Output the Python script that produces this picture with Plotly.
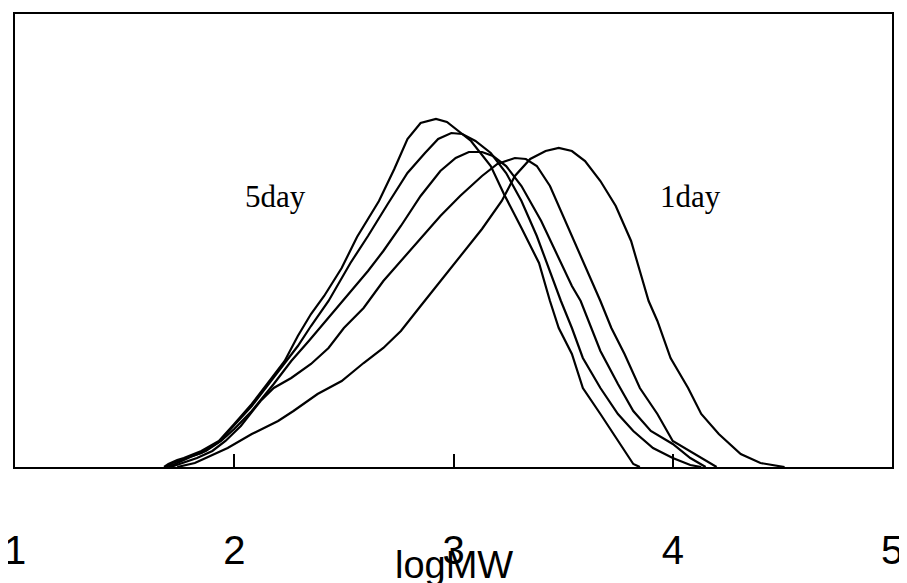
import plotly.graph_objects as go

# logMW values and relative intensities
a_x = [1.68, 1.70, 1.74, 1.77, 1.85, 1.93, 2.00, 2.08, 2.15, 2.23, 2.29, 2.35, 2.41, 2.49, 2.56, 2.66, 2.73, 2.79, 2.85, 2.92, 2.97, 3.01, 3.08, 3.17, 3.23, 3.31, 3.39, 3.44, 3.48, 3.54, 3.59, 3.67, 3.75, 3.80, 3.82, 3.85]
a_y = [0, 3, 7, 9, 16, 26, 43, 63, 83, 106, 131, 153, 171, 199, 230, 266, 298, 328, 344, 348, 345, 338, 326, 301, 273, 239, 204, 166, 139, 113, 79, 53, 26, 9, 3, 0]

b_x = [1.69, 1.72, 1.78, 1.85, 1.93, 2.00, 2.08, 2.15, 2.23, 2.29, 2.35, 2.43, 2.53, 2.61, 2.70, 2.79, 2.87, 2.93, 2.99, 3.04, 3.10, 3.17, 3.24, 3.31, 3.38, 3.44, 3.49, 3.54, 3.59, 3.67, 3.75, 3.82, 3.91, 4.00, 4.08, 4.13]
b_y = [0, 4, 9, 14, 25, 42, 61, 81, 104, 121, 141, 166, 204, 231, 263, 294, 314, 328, 334, 333, 326, 314, 294, 266, 231, 196, 166, 139, 109, 79, 53, 36, 19, 9, 2, 0]

c_x = [1.70, 1.75, 1.80, 1.87, 1.94, 2.00, 2.08, 2.18, 2.26, 2.34, 2.43, 2.52, 2.61, 2.68, 2.76, 2.85, 2.94, 3.01, 3.07, 3.13, 3.18, 3.24, 3.31, 3.40, 3.49, 3.54, 3.58, 3.63, 3.67, 3.75, 3.82, 3.90, 4.00, 4.08, 4.15]
c_y = [0, 5, 10, 16, 26, 38, 56, 83, 106, 126, 149, 173, 196, 216, 241, 271, 296, 309, 315, 315, 311, 301, 281, 246, 204, 181, 166, 139, 116, 83, 56, 36, 23, 9, 0]

d_x = [1.71, 1.76, 1.83, 1.90, 1.96, 2.03, 2.12, 2.18, 2.26, 2.35, 2.43, 2.50, 2.59, 2.68, 2.76, 2.85, 2.94, 3.03, 3.13, 3.20, 3.28, 3.33, 3.38, 3.44, 3.49, 3.56, 3.63, 3.67, 3.72, 3.78, 3.85, 3.93, 4.00, 4.13, 4.20]
d_y = [0, 4, 9, 16, 26, 41, 66, 79, 89, 103, 119, 139, 159, 186, 206, 229, 251, 271, 291, 303, 309, 308, 301, 281, 256, 221, 186, 166, 139, 113, 79, 53, 26, 9, 0]

e_x = [1.74, 1.78, 1.82, 1.86, 1.97, 2.08, 2.20, 2.27, 2.38, 2.49, 2.59, 2.68, 2.76, 2.85, 2.94, 3.03, 3.13, 3.22, 3.28, 3.35, 3.42, 3.48, 3.54, 3.60, 3.67, 3.74, 3.81, 3.85, 3.89, 3.93, 3.99, 4.07, 4.13, 4.21, 4.31, 4.40, 4.51]
e_y = [0, 2, 4, 8, 19, 33, 46, 56, 73, 86, 104, 119, 136, 161, 186, 211, 238, 266, 291, 308, 316, 319, 316, 306, 286, 261, 226, 196, 166, 146, 109, 79, 53, 33, 13, 4, 0]

tick_vals = [1, 2, 3, 4, 5]
tick_text = ["1", "2", "3", "4", "5"]
labels = ["5day", "1day"]
label_x = [2.19, 4.08]
label_y = [271, 271]

fig = go.Figure()
for xs, ys in [(a_x, a_y), (b_x, b_y), (c_x, c_y), (d_x, d_y), (e_x, e_y)]:
    fig.add_trace(go.Scatter(x=xs, y=ys, mode="lines",
                             line=dict(color="black", width=2.2),
                             showlegend=False, hoverinfo="skip", cliponaxis=False))

for t, lx, ly in zip(labels, label_x, label_y):
    fig.add_annotation(x=lx, y=ly, text=t, showarrow=False,
                       font=dict(family="Liberation Serif", size=31, color="black"))

fig.add_annotation(x=0.5, xref="paper", y=0, yref="paper", yanchor="middle",
                   yshift=-98, text="logMW", showarrow=False,
                   font=dict(family="Liberation Sans", size=38, color="black"))

fig.update_xaxes(range=[1, 5], tickvals=tick_vals, ticktext=tick_text,
                 ticks="inside", ticklen=13, tickwidth=2, tickcolor="black",
                 showline=True, linecolor="black", linewidth=2, mirror=True,
                 showgrid=False, zeroline=False, ticklabelstandoff=47,
                 automargin=False, ticklabeloverflow="allow",
                 tickfont=dict(family="Liberation Sans", size=40, color="black"))
fig.update_yaxes(range=[0, 453], showticklabels=False, ticks="",
                 showline=True, linecolor="black", linewidth=2, mirror=True,
                 showgrid=False, zeroline=False, automargin=False)

# the page body adds a small offset, so the figure is drawn slightly smaller
fig.update_layout(width=900, height=576, margin=dict(l=7, r=16, t=6, b=117, autoexpand=False),
                  plot_bgcolor="white", paper_bgcolor="white")

fig.write_html("out.html")
